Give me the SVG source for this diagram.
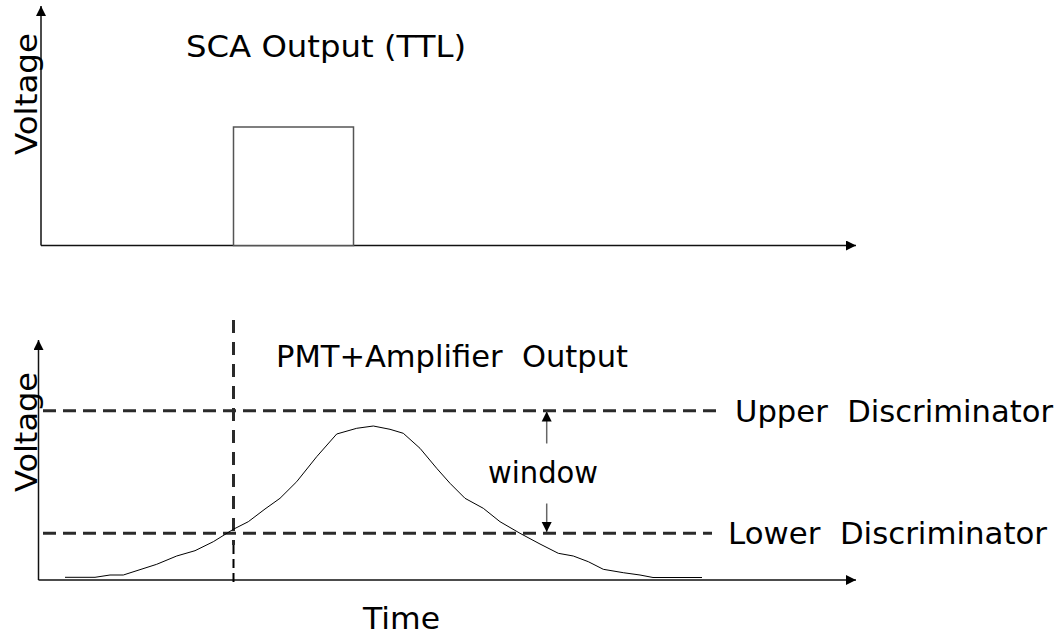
<svg xmlns="http://www.w3.org/2000/svg" width="1062" height="636" viewBox="0 0 1062 636">
<defs>
<marker id="ah" viewBox="0 0 10 10" refX="10" refY="5" markerWidth="10" markerHeight="10" markerUnits="userSpaceOnUse" orient="auto"><path d="M0,0 L10,5 L0,10 Z" fill="#000"/></marker>
<marker id="wa" viewBox="0 0 10 10" refX="10" refY="5" markerWidth="10" markerHeight="11" markerUnits="userSpaceOnUse" orient="auto"><path d="M0,0 L10,5 L0,10 Z" fill="#000"/></marker>
</defs>
<style>
text{font-family:"DejaVu Sans","Liberation Sans",sans-serif;fill:#000;white-space:pre;}
.lbl{font-size:31px;}
.axis{stroke:#111;stroke-width:1.5;fill:none;}
.dash{stroke:#2a2a2a;stroke-width:3;stroke-dasharray:13 7;fill:none;}
.vdash{stroke:#2a2a2a;stroke-width:3;stroke-dasharray:13 9;fill:none;}
.curve{stroke:#000;stroke-width:1;fill:none;}
</style>
<rect width="1062" height="636" fill="#fff"/>
<g id="top-plot">
<line class="axis" x1="41" y1="245.5" x2="41" y2="6" marker-end="url(#ah)"/>
<line class="axis" x1="41" y1="245.5" x2="856" y2="245.5" marker-end="url(#ah)"/>
<rect x="233.5" y="127" width="120" height="118.5" fill="#fff" stroke="#555" stroke-width="1.5"/>
<text class="lbl" transform="translate(37,155) rotate(-90)" font-size="33" textLength="122" lengthAdjust="spacingAndGlyphs">Voltage</text>
<text class="lbl" x="186" y="57" textLength="280" lengthAdjust="spacingAndGlyphs" xml:space="preserve">SCA Output (TTL)</text>
</g>
<g id="bottom-plot">
<line class="axis" x1="38.5" y1="580" x2="38.5" y2="340" marker-end="url(#ah)"/>
<line class="axis" x1="38.5" y1="580" x2="856" y2="580" marker-end="url(#ah)"/>
<text class="lbl" transform="translate(37,492) rotate(-90)" font-size="33" textLength="120" lengthAdjust="spacingAndGlyphs">Voltage</text>
<text class="lbl" x="276" y="367" textLength="352" lengthAdjust="spacingAndGlyphs" xml:space="preserve">PMT+Amplifier  Output</text>
<text class="lbl" x="363" y="629" textLength="77" lengthAdjust="spacingAndGlyphs">Time</text>
</g>
<g id="discriminators">
<line class="dash" x1="43" y1="410.7" x2="717" y2="410.7"/>
<line class="dash" x1="43" y1="533.3" x2="712" y2="533.3"/>
<text class="lbl" x="735" y="422" textLength="318" lengthAdjust="spacingAndGlyphs" xml:space="preserve">Upper  Discriminator</text>
<text class="lbl" x="728" y="544" textLength="319" lengthAdjust="spacingAndGlyphs" xml:space="preserve">Lower  Discriminator</text>
</g>
<g id="trigger-line">
<line class="vdash" x1="233.5" y1="320" x2="233.5" y2="545"/>
<line x1="233.5" y1="545" x2="233.5" y2="582" stroke="#000" stroke-width="2" stroke-dasharray="9 5"/>
</g>
<g id="pulse">
<polyline class="curve" points="65,577.3 95,577.3 110,575 123.3,575 156.7,564.3 176.7,556 195,550.7 213.3,541.7 233.3,529.3 248.3,521.7 265,509 280,498.3 296.7,481.7 316.7,456.7 336.7,434 356.7,428.3 373.3,426 390,429.3 403.3,433.3 420,448.3 436.7,468.3 450,483.3 465,498.3 483.3,508.3 500,521.7 520,533.3 540,544 558.3,553.3 573.3,556 588.3,561.7 603.3,569.3 623.3,572.7 640,575 653,577.5 702,577.5"/>
</g>
<g id="window">
<line x1="546.7" y1="443.5" x2="546.7" y2="411.5" stroke="#666" stroke-width="1.5" marker-end="url(#wa)"/>
<line x1="546.7" y1="503.5" x2="546.7" y2="532" stroke="#666" stroke-width="1.5" marker-end="url(#wa)"/>
<text class="lbl" x="488" y="483" textLength="110" lengthAdjust="spacingAndGlyphs">window</text>
</g>
</svg>
